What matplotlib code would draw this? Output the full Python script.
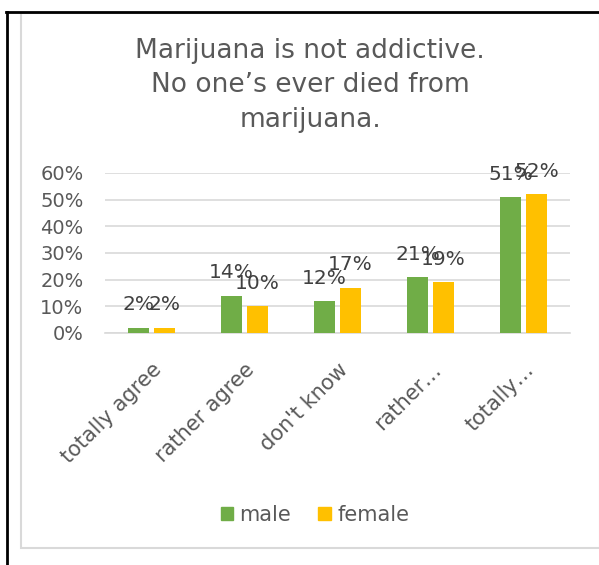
import matplotlib
matplotlib.use("Agg")
import matplotlib.pyplot as plt
from matplotlib.patches import Rectangle
from matplotlib.lines import Line2D
import numpy as np

categories = ["totally agree", "rather agree", "don't know", "rather…", "totally…"]
male = [0.02, 0.14, 0.12, 0.21, 0.51]
female = [0.02, 0.10, 0.17, 0.19, 0.52]
male_labels = ["2%", "14%", "12%", "21%", "51%"]
female_labels = ["2%", "10%", "17%", "19%", "52%"]
yticks = [0, 0.1, 0.2, 0.3, 0.4, 0.5, 0.6]
ytick_labels = ["0%", "10%", "20%", "30%", "40%", "50%", "60%"]
title = "Marijuana is not addictive.\nNo one’s ever died from\nmarijuana."

plt.rcParams['font.family'] = ['DejaVu Sans']
TXT = "#595959"
GREEN = "#70AD47"
GOLD = "#FFC000"

W, H = 599, 565
fig = plt.figure(figsize=(W / 100, H / 100), dpi=100)

# outer decorations: black lines and gray frame
fig.add_artist(Line2D([7 / W, 7 / W], [0, 1 - 12 / H], color="black", lw=2.0, transform=fig.transFigure))
fig.add_artist(Line2D([6 / W, 1], [1 - 12 / H, 1 - 12 / H], color="black", lw=2.0, transform=fig.transFigure))
fig.add_artist(Rectangle((20.5 / W, 1 - 548 / H), (W - 20) / W, (548 - 13) / H, transform=fig.transFigure,
                         fill=False, edgecolor="#D9D9D9", lw=1.5))

ax = fig.add_axes([105 / W, 1 - 333 / H, (570 - 105) / W, (333 - 173) / H])
x = np.arange(len(categories))
bw = 0.23
off = 0.14
ax.bar(x - off, male, bw, color=GREEN, zorder=3, label="male")
ax.bar(x + off, female, bw, color=GOLD, zorder=3, label="female")

for xi, v, lab in zip(x, male, male_labels):
    ax.annotate(lab, (xi - off, v), xytext=(0, 16.5), textcoords="offset points", ha="center", va="center",
                fontsize=14.5, color="#404040", annotation_clip=False)
for xi, v, lab in zip(x, female, female_labels):
    ax.annotate(lab, (xi + off, v), xytext=(0, 16.5), textcoords="offset points", ha="center", va="center",
                fontsize=14.5, color="#404040", annotation_clip=False)

ax.set_xlim(-0.5, len(categories) - 0.5)
ax.set_ylim(0, 0.6)
ax.set_yticks(yticks)
ax.set_yticklabels(ytick_labels, fontsize=14, color=TXT)
ax.set_xticks(x)
ax.set_xticklabels(categories, fontsize=15, color=TXT, rotation=45, ha="right", va="top", rotation_mode="anchor")
ax.tick_params(axis="both", length=0)
ax.tick_params(axis="y", pad=15.5)
ax.tick_params(axis="x", pad=19)
ax.grid(axis="y", color="#D9D9D9", lw=1.2, zorder=0)
for s in ["top", "right", "left"]:
    ax.spines[s].set_visible(False)
ax.spines["bottom"].set_color("#D9D9D9")
ax.spines["bottom"].set_linewidth(1.2)

fig.text(310 / W, 1 - 38 / H, title, ha="center", va="top", fontsize=19, color=TXT, linespacing=1.42)

handles = [Rectangle((0, 0), 1, 1, color=GREEN), Rectangle((0, 0), 1, 1, color=GOLD)]
fig.legend(handles, ["male", "female"], loc="center", bbox_to_anchor=(315 / W, 1 - 515 / H), ncol=2,
           frameon=False, fontsize=15, handlelength=0.6, handleheight=0.6, handletextpad=0.3,
           columnspacing=1.3, labelcolor=TXT)

fig.savefig("out.png", dpi=100)
